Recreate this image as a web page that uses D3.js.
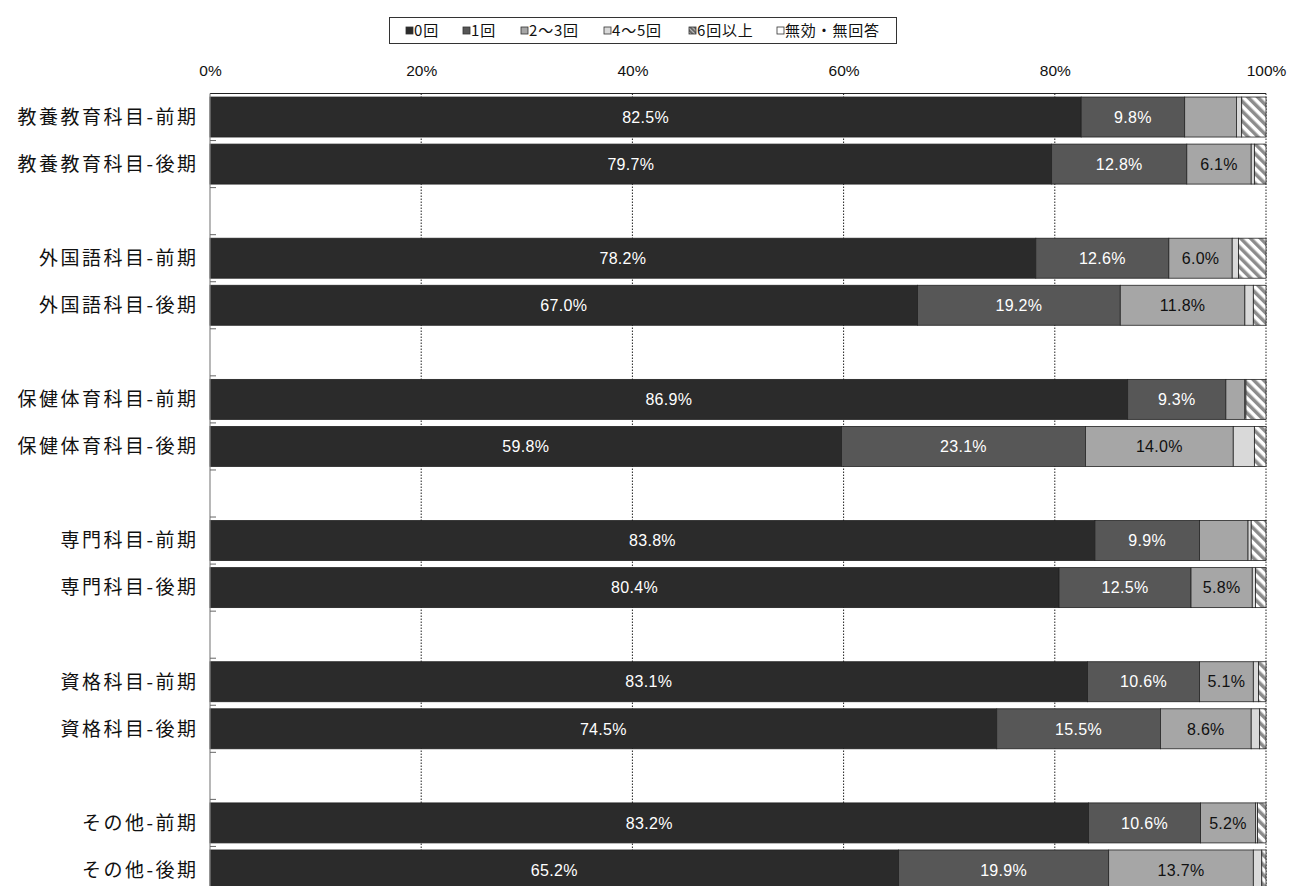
<!DOCTYPE html>
<html><head><meta charset="utf-8">
<script src="https://cdn.jsdelivr.net/npm/d3@7"></script>
<style>
body{margin:0;background:#fff;}
text{font-family:"Liberation Sans",Arial,"Noto Sans CJK JP",sans-serif;}
.jp{font-family:"Noto Sans CJK JP",sans-serif;}
</style></head><body>
<svg id="c" width="1291" height="886"></svg>
<script>
const categories = ["教養教育科目-前期","教養教育科目-後期","外国語科目-前期","外国語科目-後期","保健体育科目-前期","保健体育科目-後期","専門科目-前期","専門科目-後期","資格科目-前期","資格科目-後期","その他-前期","その他-後期"];
const seriesNames = ["0回","1回","2〜3回","4〜5回","6回以上","無効・無回答"];
const v0 = [82.5,79.7,78.2,67.0,86.9,59.8,83.8,80.4,83.1,74.5,83.2,65.2];
const v1 = [9.8,12.8,12.6,19.2,9.3,23.1,9.9,12.5,10.6,15.5,10.6,19.9];
const v23 = [4.9,6.1,6.0,11.8,1.8,14.0,4.6,5.8,5.1,8.6,5.2,13.7];
const v45 = [0.5,0.3,0.6,0.8,0.1,2.0,0.3,0.3,0.5,0.8,0.2,0.8];
const v6 = [2.3,1.1,2.6,1.2,1.9,1.1,1.4,1.0,0.7,0.6,0.8,0.4];
const vNA = [0,0,0,0,0,0,0,0,0,0,0,0];
const tickValues = [0,20,40,60,80,100];

(function(){
const svg = d3.select("#c");
const defs = svg.append("defs");
const pat = defs.append("pattern").attr("id","hatch").attr("patternUnits","userSpaceOnUse")
  .attr("width",7).attr("height",7).attr("patternTransform","rotate(-45)");
pat.append("rect").attr("width",7).attr("height",7).attr("fill","#fff");
pat.append("rect").attr("width",3.5).attr("height",7).attr("fill","#8c8c8c");
const pat2 = defs.append("pattern").attr("id","hatchS").attr("patternUnits","userSpaceOnUse")
  .attr("width",3).attr("height",3).attr("patternTransform","rotate(-45)");
pat2.append("rect").attr("width",3).attr("height",3).attr("fill","#bbb");
pat2.append("rect").attr("width",1.6).attr("height",3).attr("fill","#555");

const fills = ["#2b2b2b","#575757","#a6a6a6","#d9d9d9","url(#hatch)","#ffffff"];
const textColors = ["#fff","#fff","#111","#111","#111","#111"];
const seriesVals = [v0,v1,v23,v45,v6,vNA];

const pL = 210, pR = 1266, pT = 93.5, pB = 893.5;
const slots = [];
categories.forEach((c,i)=>{ slots.push("c"+i); if(i%2===1 && i<categories.length-1) slots.push("gap"+i); });
const y = d3.scaleBand().domain(slots).range([pT,pB]).paddingInner(0.15).paddingOuter(0.075);
const x = d3.scaleLinear().domain([0,100]).range([pL,pR]);

svg.append("g").selectAll("line").data(tickValues.filter(d=>d>0)).join("line")
  .attr("x1",d=>x(d)).attr("x2",d=>x(d)).attr("y1",pT).attr("y2",pB)
  .attr("stroke","#222").attr("stroke-width",1).attr("stroke-dasharray","1.5,1.5");
svg.append("line").attr("x1",pL).attr("x2",pR).attr("y1",pT).attr("y2",pT).attr("stroke","#222").attr("stroke-width",1);

const xAxis = d3.axisTop(x).tickValues(tickValues).tickFormat(d=>d+"%").tickSize(0).tickPadding(0);
const gx = svg.append("g").attr("transform",`translate(0,76)`).call(xAxis);
gx.select(".domain").remove();
gx.selectAll("text").attr("font-size",15.5).attr("fill","#111").attr("font-family","Liberation Sans,Arial,sans-serif");

const rows = categories.map((c,i)=>{
  let acc=0; return seriesVals.map((s,k)=>{ const o={row:i,k,x0:acc,x1:acc+s[i],v:s[i]}; acc+=s[i]; return o;});
});
const gb = svg.append("g");
rows.forEach((segs,i)=>{
  const yy = y("c"+i), h = y.bandwidth();
  segs.forEach(s=>{
    if(s.v<=0) return;
    gb.append("rect").attr("x",x(s.x0)).attr("y",yy).attr("width",x(s.x1)-x(s.x0)).attr("height",h)
      .attr("fill",fills[s.k]).attr("stroke","#222").attr("stroke-width",0.8);
    if(s.v>=5){
      gb.append("text").attr("x",(x(s.x0)+x(s.x1))/2).attr("y",yy+h/2).attr("dy","0.36em")
        .attr("text-anchor","middle").attr("font-size",16).attr("letter-spacing",0.3)
        .attr("fill",textColors[s.k]).text(s.v.toFixed(1)+"%");
    }
  });
});

svg.append("line").attr("x1",pL).attr("x2",pL).attr("y1",pT).attr("y2",pB).attr("stroke","#888").attr("stroke-width",1.2);
const bounds = d3.range(1,slots.length).map(i=>pT + i*(pB-pT)/slots.length);
svg.append("g").selectAll("line").data(bounds).join("line")
  .attr("x1",pL).attr("x2",pL+6).attr("y1",d=>d).attr("y2",d=>d).attr("stroke","#666").attr("stroke-width",1);

svg.append("g").selectAll("text").data(categories).join("text")
  .attr("class","jp").attr("x",198.5).attr("y",(d,i)=>y("c"+i)+y.bandwidth()/2).attr("dy","0.36em")
  .attr("text-anchor","end").attr("font-size",19).attr("letter-spacing",2.5).attr("fill","#111").text(d=>d);

const lg = svg.append("g");
lg.append("rect").attr("x",389.5).attr("y",17.5).attr("width",507).attr("height",26).attr("fill","#fff").attr("stroke","#333");
const legX = [406,463,521,604,689,777];
seriesNames.forEach((n,k)=>{
  lg.append("rect").attr("x",legX[k]).attr("y",27).attr("width",7).attr("height",7)
    .attr("fill",k===4?"url(#hatchS)":fills[k]).attr("stroke","#333").attr("stroke-width",0.8);
  lg.append("text").attr("class","jp").attr("x",legX[k]+8).attr("y",30.5).attr("dy","0.36em")
    .attr("font-size",15).attr("letter-spacing",0.8).attr("fill","#111").text(n);
});
})();
</script></body></html>
